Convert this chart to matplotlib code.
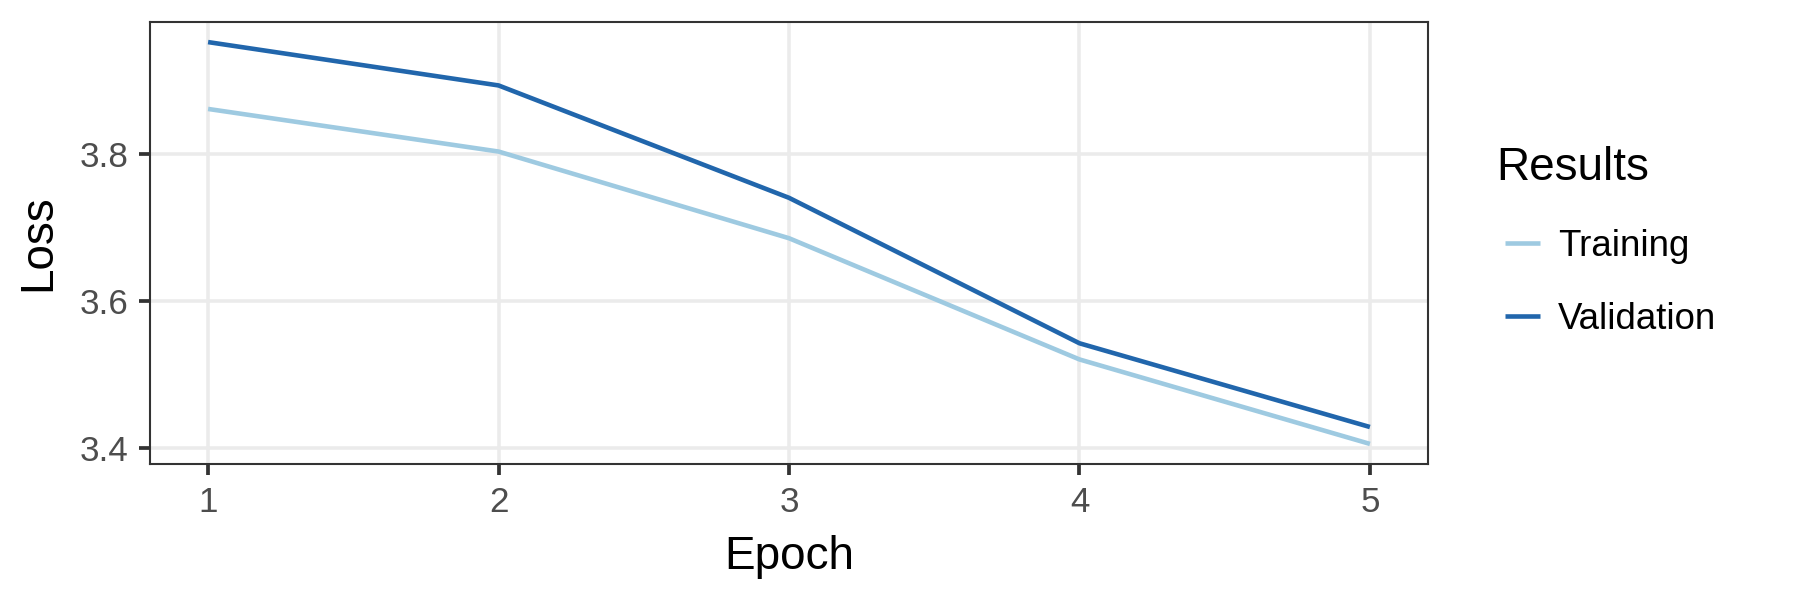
import matplotlib.pyplot as plt

epochs = [1, 2, 3, 4, 5]
training_loss = [3.861, 3.803, 3.685, 3.520, 3.405]
validation_loss = [3.952, 3.893, 3.740, 3.542, 3.428]
series_names = ["Training", "Validation"]
series_colors = ["#9ecae1", "#2166ac"]
y_ticks = [3.4, 3.6, 3.8]

plt.rcParams["font.family"] = ["Liberation Sans", "DejaVu Sans"]

fig = plt.figure(figsize=(6, 2), dpi=300)
ax = fig.add_axes([150 / 1800, 1 - 464 / 600, (1428 - 150) / 1800, (464 - 22) / 600])

for values, name, color in zip([training_loss, validation_loss], series_names, series_colors):
    ax.plot(epochs, values, color=color, linewidth=1.1, label=name,
            solid_capstyle="butt", zorder=3)

ax.set_xlim(0.8, 5.2)
lo = min(training_loss + validation_loss)
hi = max(training_loss + validation_loss)
pad = (hi - lo) * 0.05
ax.set_ylim(lo - pad, hi + pad)
ax.set_xticks(epochs)
ax.set_yticks(y_ticks)
ax.set_yticklabels([f"{t:.1f}" for t in y_ticks])

ax.grid(True, color="#ebebeb", linewidth=0.85, zorder=0)
ax.set_axisbelow(True)
for spine in ax.spines.values():
    spine.set_color("#333333")
    spine.set_linewidth(0.5)
ax.tick_params(axis="both", colors="#333333", width=0.9, length=2.6,
               labelsize=8.4, labelcolor="#4d4d4d", pad=2.6)

ax.set_xlabel("Epoch", fontsize=11, labelpad=4)
ax.set_ylabel("Loss", fontsize=11, labelpad=4.5)

leg = fig.legend(loc="upper left", bbox_to_anchor=(1505 / 1800, 1 - 146 / 600),
                 title="Results", title_fontsize=11, fontsize=8.8, frameon=False,
                 alignment="left", handlelength=0.95, handletextpad=0.5,
                 labelspacing=1.05, borderpad=0, borderaxespad=0)
# pull the title back left of the key lines, like ggplot
leg.get_title().set_x(-9)

fig.savefig("out.png", dpi=300)
